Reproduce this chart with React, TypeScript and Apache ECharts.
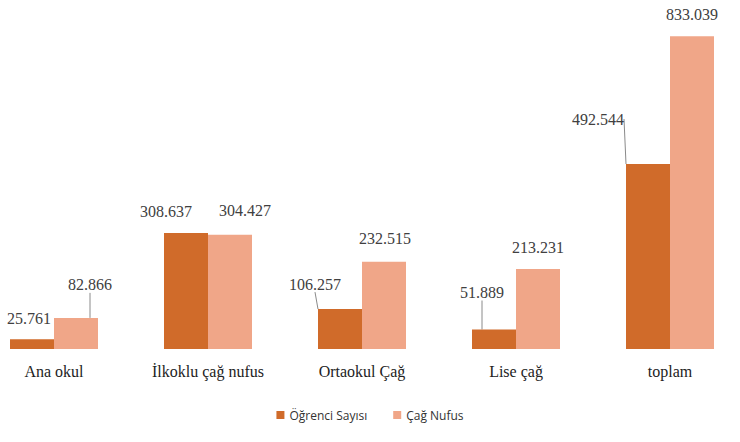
import React, { useEffect, useRef } from "react";
import * as echarts from "echarts";

const categories = ["Ana okul", "İlkoklu çağ nufus", "Ortaokul Çağ", "Lise çağ", "toplam"];
const ogrenciSayisi = [25.761, 308.637, 106.257, 51.889, 492.544];
const cagNufus = [82.866, 304.427, 232.515, 213.231, 833.039];
const seriesNames = ["Öğrenci Sayısı", "Çağ Nufus"];

// label offsets (layout only)
const ogrenciOffsets = [[-3, -8], [-20, -9], [-25, -12], [-12, -24], [-50, -32]];
const cagOffsets = [[14, -20], [15, -11], [1, -10], [0, -8], [0, -9]];
const ogrenciLines = [false, false, true, true, true];
const cagLines = [true, false, false, false, false];

const fmt = (v: number) => v.toFixed(3);
const SERIF = "Liberation Serif";

export default function App() {
  const ref = useRef<HTMLDivElement>(null);
  useEffect(() => {
    if (!ref.current) return;
    const chart = echarts.init(ref.current, null, { renderer: "svg" });
    const labelStyle = {
      show: true,
      position: "top",
      distance: 5,
      fontFamily: SERIF,
      fontWeight: "normal",
      fontStyle: "normal",
      fontSize: 16,
      color: "#404040",
      formatter: (p: any) => fmt(p.value),
    };
    chart.setOption({
      animation: false,
      backgroundColor: "#ffffff",
      grid: { left: -23, width: 770, top: 11, bottom: 93, outerBoundsMode: "none", containLabel: false },
      legend: {
        bottom: 16,
        left: "center",
        itemWidth: 8,
        itemHeight: 8,
        itemGap: 26,
        icon: "rect",
        textStyle: { fontFamily: "Open Sans", fontWeight: "normal", fontSize: 12, color: "#333" },
        data: seriesNames,
      },
      xAxis: {
        type: "category",
        data: categories,
        axisLine: { show: false },
        axisTick: { show: false },
        axisLabel: { fontFamily: SERIF, fontWeight: "normal", fontStyle: "normal", fontSize: 16, color: "#222", margin: 14 },
      },
      yAxis: { type: "value", min: 0, max: 900, show: false, splitLine: { show: false } },
      series: [
        {
          name: seriesNames[0],
          type: "bar",
          barWidth: 44,
          barGap: "0%",
          itemStyle: { color: "#D06B2A" },
          label: labelStyle,
          labelLine: { show: true, lineStyle: { color: "#8a8a8a", width: 1 } },
          labelLayout: (p: any) => {
            const o = ogrenciOffsets[p.dataIndex];
            return { dx: o[0], dy: o[1] };
          },
          data: ogrenciSayisi.map((v, i) => ({ value: v, labelLine: { show: ogrenciLines[i] } })),
        },
        {
          name: seriesNames[1],
          type: "bar",
          barWidth: 44,
          barGap: "0%",
          itemStyle: { color: "#F0A688" },
          label: labelStyle,
          labelLine: { show: true, lineStyle: { color: "#8a8a8a", width: 1 } },
          labelLayout: (p: any) => {
            const o = cagOffsets[p.dataIndex];
            return { dx: o[0], dy: o[1] };
          },
          data: cagNufus.map((v, i) => ({ value: v, labelLine: { show: cagLines[i] } })),
        },
      ],
    });
    return () => chart.dispose();
  }, []);
  return (
    <div
      ref={ref}
      style={{ position: "absolute", left: 0, top: 0, width: 740, height: 442 }}
    />
  );
}
